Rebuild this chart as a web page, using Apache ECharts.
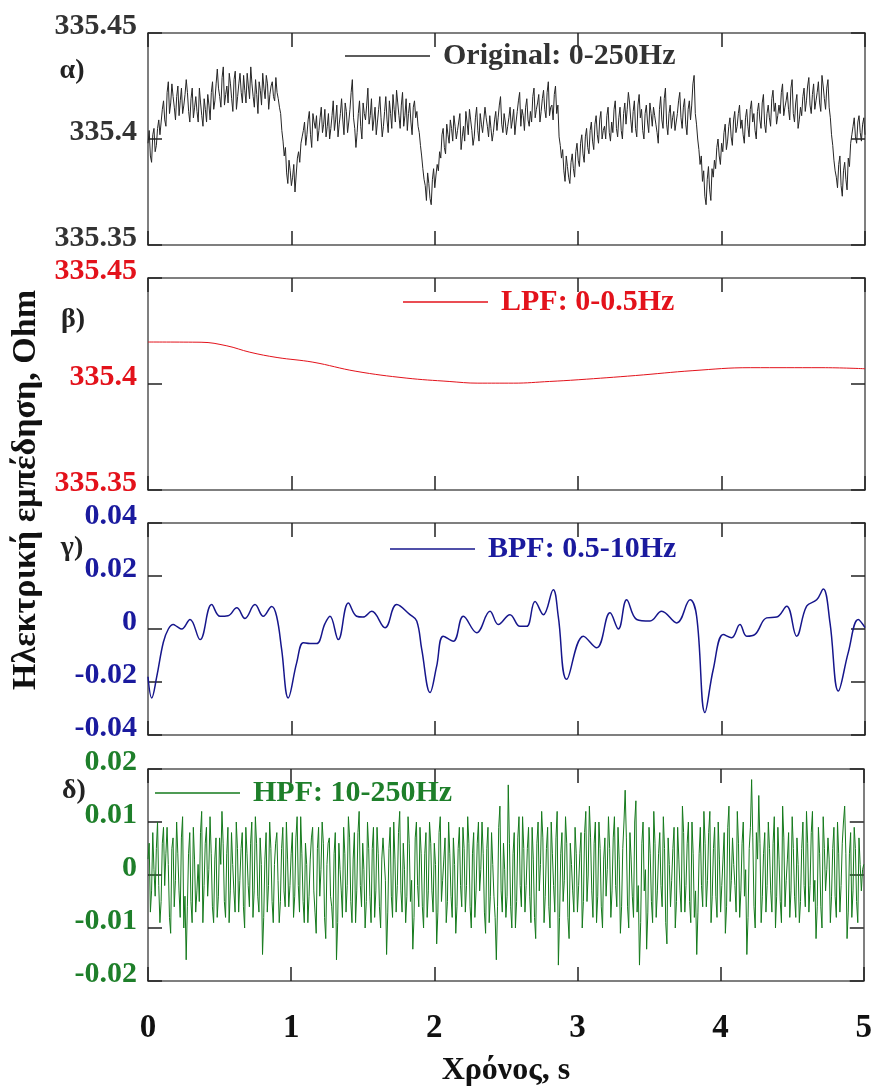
<!DOCTYPE html>
<html>
<head>
<meta charset="utf-8">
<title>Ηλεκτρική εμπέδηση</title>
<script src="https://cdn.jsdelivr.net/npm/echarts@6/dist/echarts.min.js"></script>
<style>
  html, body { margin: 0; padding: 0; background: #fff; }
  #main { width: 875px; height: 1088px; }
</style>
</head>
<body>
<div id="main"></div>
<script>
// ---- data ----
var seriesNames = ['Original: 0-250Hz', 'LPF: 0-0.5Hz', 'BPF: 0.5-10Hz', 'HPF: 10-250Hz'];
var panelLetters = ['α)', 'β)', 'γ)', 'δ)'];
var timeRange = [0, 5];

// original signal, one sample every 1/120 s
var alphaValues = [
  335.398, 335.404, 335.392, 335.389, 335.402, 335.405, 335.394, 335.397, 335.405, 335.409, 335.402, 335.408, 335.414, 335.418, 335.409, 335.406, 335.422, 335.427, 335.412, 335.417,
  335.426, 335.420, 335.415, 335.409, 335.420, 335.425, 335.411, 335.418, 335.424, 335.412, 335.416, 335.421, 335.428, 335.422, 335.413, 335.408, 335.419, 335.424, 335.410, 335.415,
  335.420, 335.413, 335.408, 335.424, 335.417, 335.411, 335.406, 335.419, 335.414, 335.408, 335.421, 335.416, 335.409, 335.422, 335.427, 335.414, 335.418, 335.426, 335.433, 335.424,
  335.420, 335.415, 335.429, 335.434, 335.416, 335.421, 335.425, 335.417, 335.431, 335.426, 335.419, 335.413, 335.428, 335.432, 335.414, 335.420, 335.426, 335.431, 335.422, 335.417,
  335.430, 335.423, 335.417, 335.431, 335.425, 335.419, 335.434, 335.426, 335.420, 335.415, 335.428, 335.421, 335.412, 335.427, 335.423, 335.416, 335.431, 335.424, 335.419, 335.430,
  335.426, 335.414, 335.421, 335.425, 335.427, 335.420, 335.418, 335.429, 335.422, 335.419, 335.415, 335.412, 335.404, 335.399, 335.392, 335.396, 335.384, 335.379, 335.390, 335.385,
  335.378, 335.382, 335.388, 335.375, 335.383, 335.391, 335.394, 335.389, 335.398, 335.401, 335.404, 335.408, 335.397, 335.402, 335.409, 335.413, 335.402, 335.396, 335.412, 335.408,
  335.405, 335.411, 335.399, 335.404, 335.410, 335.415, 335.403, 335.407, 335.414, 335.401, 335.406, 335.412, 335.400, 335.405, 335.411, 335.418, 335.404, 335.409, 335.416, 335.401,
  335.407, 335.412, 335.419, 335.409, 335.402, 335.417, 335.413, 335.403, 335.408, 335.414, 335.422, 335.428, 335.410, 335.405, 335.396, 335.403, 335.412, 335.418, 335.406, 335.400,
  335.417, 335.412, 335.409, 335.416, 335.424, 335.407, 335.411, 335.419, 335.404, 335.409, 335.415, 335.402, 335.408, 335.414, 335.420, 335.410, 335.401, 335.406, 335.413, 335.420,
  335.409, 335.403, 335.418, 335.412, 335.405, 335.421, 335.414, 335.408, 335.423, 335.417, 335.411, 335.405, 335.416, 335.422, 335.406, 335.411, 335.419, 335.404, 335.412, 335.417,
  335.408, 335.402, 335.415, 335.418, 335.410, 335.413, 335.406, 335.403, 335.397, 335.392, 335.386, 335.381, 335.378, 335.371, 335.384, 335.379, 335.372, 335.369, 335.381, 335.386,
  335.377, 335.383, 335.388, 335.385, 335.394, 335.391, 335.402, 335.405, 335.396, 335.393, 335.407, 335.402, 335.398, 335.409, 335.405, 335.399, 335.411, 335.406, 335.400, 335.404,
  335.408, 335.412, 335.395, 335.401, 335.406, 335.399, 335.413, 335.408, 335.402, 335.414, 335.409, 335.404, 335.397, 335.401, 335.410, 335.415, 335.404, 335.399, 335.412, 335.407,
  335.403, 335.409, 335.415, 335.410, 335.406, 335.401, 335.411, 335.405, 335.399, 335.403, 335.409, 335.413, 335.404, 335.410, 335.416, 335.420, 335.407, 335.403, 335.412, 335.408,
  335.402, 335.406, 335.410, 335.415, 335.405, 335.409, 335.414, 335.402, 335.408, 335.413, 335.418, 335.422, 335.406, 335.414, 335.411, 335.404, 335.415, 335.419, 335.409, 335.406,
  335.413, 335.408, 335.420, 335.424, 335.410, 335.414, 335.417, 335.421, 335.408, 335.413, 335.419, 335.423, 335.414, 335.410, 335.422, 335.427, 335.411, 335.415, 335.416, 335.409,
  335.421, 335.425, 335.412, 335.416, 335.401, 335.397, 335.391, 335.395, 335.385, 335.380, 335.392, 335.387, 335.382, 335.379, 335.389, 335.393, 335.386, 335.382, 335.394, 335.398,
  335.390, 335.387, 335.398, 335.402, 335.393, 335.389, 335.401, 335.405, 335.396, 335.393, 335.404, 335.408, 335.399, 335.395, 335.407, 335.411, 335.402, 335.398, 335.409, 335.413,
  335.400, 335.404, 335.406, 335.400, 335.411, 335.415, 335.403, 335.399, 335.408, 335.403, 335.414, 335.418, 335.405, 335.401, 335.410, 335.415, 335.404, 335.400, 335.412, 335.417,
  335.407, 335.414, 335.422, 335.417, 335.409, 335.403, 335.413, 335.418, 335.405, 335.401, 335.416, 335.421, 335.410, 335.414, 335.404, 335.400, 335.412, 335.416, 335.408, 335.403,
  335.417, 335.412, 335.406, 335.415, 335.411, 335.407, 335.403, 335.398, 335.414, 335.420, 335.409, 335.405, 335.419, 335.424, 335.407, 335.402, 335.412, 335.416, 335.405, 335.410,
  335.413, 335.404, 335.408, 335.412, 335.418, 335.422, 335.410, 335.405, 335.415, 335.419, 335.407, 335.402, 335.414, 335.418, 335.409, 335.416, 335.426, 335.430, 335.412, 335.407,
  335.400, 335.395, 335.388, 335.392, 335.380, 335.385, 335.373, 335.369, 335.381, 335.387, 335.376, 335.371, 335.386, 335.382, 335.390, 335.386, 335.396, 335.400, 335.392, 335.388,
  335.398, 335.394, 335.403, 335.407, 335.395, 335.399, 335.406, 335.410, 335.401, 335.397, 335.409, 335.413, 335.403, 335.406, 335.412, 335.416, 335.405, 335.409, 335.402, 335.398,
  335.410, 335.414, 335.406, 335.401, 335.414, 335.418, 335.408, 335.412, 335.404, 335.400, 335.413, 335.417, 335.409, 335.405, 335.417, 335.421, 335.407, 335.403, 335.412, 335.416,
  335.410, 335.406, 335.419, 335.423, 335.413, 335.417, 335.407, 335.411, 335.416, 335.412, 335.422, 335.426, 335.411, 335.415, 335.418, 335.422, 335.414, 335.409, 335.424, 335.428,
  335.412, 335.408, 335.417, 335.421, 335.405, 335.409, 335.415, 335.411, 335.420, 335.424, 335.413, 335.418, 335.425, 335.429, 335.416, 335.412, 335.421, 335.426, 335.414, 335.418,
  335.422, 335.427, 335.417, 335.413, 335.430, 335.425, 335.419, 335.414, 335.424, 335.428, 335.415, 335.410, 335.402, 335.397, 335.390, 335.385, 335.382, 335.377, 335.388, 335.392,
  335.378, 335.373, 335.385, 335.389, 335.381, 335.376, 335.391, 335.387, 335.398, 335.402, 335.406, 335.410, 335.401, 335.398, 335.408, 335.411, 335.403, 335.399, 335.407, 335.410,
  335.402
];

// low-pass component
var lpfTime   = [0, 0.37, 0.55, 0.71, 0.9, 1.15, 1.45, 1.8, 2.1, 2.3, 2.55, 2.8, 3.0, 3.4, 3.8, 4.2, 4.7, 5.0];
var lpfValues = [335.4198, 335.4197, 335.4180, 335.4150, 335.4125, 335.4103, 335.4060, 335.4028, 335.4012, 335.4004,
                 335.4004, 335.4012, 335.4020, 335.4040, 335.4063, 335.4077, 335.4077, 335.4072];

// band-pass component
var bpfTime = [
  0.000, 0.026, 0.061, 0.107, 0.142, 0.176, 0.200, 0.235, 0.293, 0.363, 0.444, 0.502, 0.558, 0.619, 0.676, 0.746, 0.804, 0.863, 0.897, 0.932,
  0.978, 1.037, 1.083, 1.130, 1.176, 1.234, 1.269, 1.327, 1.397, 1.455, 1.499, 1.560, 1.653, 1.734, 1.827, 1.874, 1.909, 1.967, 2.013, 2.059,
  2.129, 2.199, 2.292, 2.385, 2.443, 2.524, 2.594, 2.641, 2.699, 2.757, 2.826, 2.861, 2.920, 3.036, 3.129, 3.222, 3.280, 3.338, 3.408, 3.501,
  3.582, 3.687, 3.780, 3.826, 3.884, 3.942, 4.012, 4.070, 4.128, 4.175, 4.233, 4.314, 4.384, 4.454, 4.523, 4.593, 4.663, 4.709, 4.756, 4.814,
  4.883, 4.953, 5.000
];
var bpfValues = [
  -0.0180, -0.0260, -0.0180, -0.0050, 0.0000, 0.0017, 0.0010, 0.0000, 0.0036, -0.0040, 0.0092, 0.0048, 0.0050, 0.0080, 0.0040, 0.0092, 0.0048, 0.0085, 0.0048, -0.0077,
  -0.0260, -0.0127, -0.0052, -0.0055, -0.0055, 0.0020, 0.0048, -0.0040, 0.0098, 0.0048, 0.0045, 0.0067, 0.0005, 0.0092, 0.0054, 0.0030, -0.0077, -0.0240, -0.0140, -0.0027,
  -0.0046, 0.0048, -0.0014, 0.0067, 0.0017, 0.0054, 0.0010, 0.0010, 0.0104, 0.0054, 0.0148, 0.0048, -0.0190, -0.0027, -0.0071, 0.0061, 0.0000, 0.0110, 0.0036, 0.0030,
  0.0067, 0.0023, 0.0110, 0.0048, -0.0315, -0.0152, -0.0021, -0.0033, 0.0017, -0.0027, -0.0020, 0.0042, 0.0045, 0.0086, -0.0027, 0.0086, 0.0110, 0.0151, 0.0023, -0.0234,
  -0.0089, 0.0036, 0.0005
];

// high-pass component, one sample every 1/120 s
var hpfValues = [
  0.003, 0.006, -0.007, -0.003, 0.008, 0.001, -0.004, 0.005, 0.010, -0.002, -0.009, -0.005, 0.006, 0.009, -0.002, 0.004, 0.009, 0.002, -0.008, -0.011,
  0.005, 0.007, -0.006, -0.001, 0.010, 0.004, -0.003, -0.008, 0.007, 0.011, -0.010, -0.004, -0.016, -0.006, 0.004, 0.008, -0.005, -0.009, 0.009, 0.003,
  -0.007, -0.003, 0.002, -0.005, 0.008, 0.012, -0.009, -0.002, 0.006, 0.009, -0.004, 0.001, 0.011, 0.004, -0.006, -0.009, 0.003, 0.007, -0.008, -0.004,
  0.007, 0.002, 0.012, 0.006, -0.005, -0.008, 0.004, 0.009, -0.009, -0.003, 0.008, 0.002, -0.003, -0.007, 0.010, 0.005, -0.007, -0.001, 0.005, 0.008,
  -0.006, -0.010, 0.009, 0.004, -0.002, -0.006, 0.006, 0.010, -0.008, -0.003, 0.011, 0.006, -0.004, -0.007, 0.007, 0.002, -0.015, -0.008, 0.003, 0.008,
  -0.007, -0.002, 0.010, 0.005, -0.005, -0.009, 0.002, 0.006, 0.008, -0.001, -0.009, -0.005, 0.005, 0.009, -0.003, -0.006, 0.010, 0.003, -0.006, -0.002,
  0.004, 0.008, -0.008, -0.004, 0.007, 0.011, -0.002, -0.007, 0.011, 0.004, -0.005, -0.009, 0.006, 0.002, -0.009, -0.004, 0.003, 0.007, 0.009, -0.003,
  -0.007, -0.011, 0.005, 0.009, -0.004, 0.001, 0.010, 0.006, -0.008, -0.012, 0.002, 0.006, 0.007, -0.004, -0.006, -0.010, 0.004, 0.008, -0.016, -0.009,
  0.006, 0.001, -0.003, -0.008, 0.009, 0.004, -0.007, -0.002, 0.011, 0.007, -0.005, -0.009, 0.003, 0.008, -0.009, -0.003, 0.008, 0.012, -0.002, -0.006,
  0.006, 0.001, -0.010, -0.005, 0.010, 0.005, -0.004, -0.009, 0.005, 0.009, -0.008, -0.003, 0.009, 0.004, -0.006, -0.010, 0.003, 0.007, 0.007, -0.001,
  -0.015, -0.007, 0.005, 0.009, -0.004, -0.008, 0.010, 0.003, -0.007, -0.002, 0.008, 0.012, -0.003, -0.007, 0.006, 0.001, -0.009, -0.004, 0.011, 0.006,
  -0.005, -0.001, -0.014, -0.008, 0.007, 0.010, -0.002, -0.006, 0.009, 0.004, -0.006, -0.010, 0.004, 0.008, -0.008, -0.003, 0.010, 0.006, -0.003, -0.007,
  0.006, 0.002, -0.013, -0.007, 0.008, 0.011, -0.005, -0.001, 0.003, 0.007, -0.009, -0.005, 0.010, 0.004, -0.004, -0.008, 0.007, 0.002, -0.011, -0.006,
  0.005, 0.009, -0.002, -0.006, 0.009, 0.005, -0.007, -0.002, 0.011, 0.006, -0.006, -0.010, 0.004, 0.008, -0.008, -0.003, 0.006, 0.010, -0.003, 0.001,
  0.010, 0.004, -0.007, -0.011, 0.005, 0.009, -0.009, -0.004, 0.008, 0.002, -0.004, -0.008, -0.016, -0.006, 0.009, 0.013, -0.003, -0.007, 0.006, 0.001,
  -0.008, -0.004, 0.017, 0.006, -0.006, -0.010, 0.004, 0.008, -0.010, -0.005, 0.007, 0.011, -0.002, -0.006, 0.011, 0.005, -0.007, -0.002, 0.005, 0.009,
  -0.004, -0.009, 0.009, 0.003, -0.008, -0.012, 0.006, 0.010, -0.003, 0.002, 0.012, 0.007, -0.009, -0.004, 0.005, 0.009, -0.006, -0.010, 0.010, 0.004,
  -0.002, -0.007, 0.007, 0.012, -0.017, -0.008, 0.004, 0.008, -0.005, -0.001, 0.011, 0.006, -0.008, -0.012, 0.006, 0.002, -0.003, -0.007, 0.009, 0.004,
  -0.007, -0.002, 0.004, 0.008, -0.010, -0.005, 0.008, 0.012, -0.005, 0.000, 0.013, 0.007, -0.003, -0.008, 0.006, 0.010, -0.009, -0.004, 0.010, 0.005,
  -0.006, -0.010, 0.003, 0.007, -0.004, 0.001, 0.011, 0.005, -0.008, -0.003, 0.007, 0.011, -0.002, -0.006, 0.009, 0.003, -0.011, -0.006, 0.005, 0.010,
  0.016, 0.007, -0.006, -0.010, 0.008, 0.003, -0.004, -0.008, 0.010, 0.014, -0.007, -0.002, -0.017, -0.009, 0.006, 0.010, -0.003, 0.001, -0.014, -0.007,
  0.009, 0.004, -0.005, -0.009, 0.012, 0.006, -0.008, -0.003, 0.004, 0.008, -0.002, -0.006, 0.011, 0.005, -0.009, -0.013, 0.007, 0.002, -0.006, -0.001,
  0.005, 0.009, -0.010, -0.005, 0.009, 0.003, -0.003, -0.007, 0.013, 0.008, -0.007, -0.002, 0.006, 0.010, -0.005, -0.009, 0.010, 0.004, -0.008, -0.003,
  -0.015, -0.007, 0.004, 0.009, -0.002, -0.006, 0.012, 0.006, -0.006, -0.001, 0.008, 0.012, -0.009, -0.004, 0.005, 0.009, -0.004, -0.008, 0.010, 0.003,
  -0.007, -0.002, 0.003, 0.008, -0.011, -0.006, 0.009, 0.013, -0.005, -0.001, 0.007, 0.002, -0.002, -0.007, 0.012, 0.006, -0.008, -0.003, 0.006, 0.010,
  -0.004, 0.001, -0.015, -0.008, 0.005, 0.009, 0.018, 0.007, -0.006, -0.010, 0.008, 0.003, 0.015, 0.006, -0.009, -0.004, 0.004, 0.008, -0.007, -0.002,
  0.010, 0.005, -0.003, -0.007, 0.006, 0.011, -0.010, -0.004, 0.009, 0.003, -0.005, -0.009, 0.013, 0.007, -0.006, -0.001, 0.003, 0.008, -0.008, -0.003,
  0.011, 0.005, -0.004, -0.008, 0.007, 0.002, -0.009, -0.005, 0.005, 0.010, -0.002, -0.006, 0.012, 0.006, -0.007, -0.002, 0.008, 0.012, -0.005, -0.001,
  -0.012, -0.006, 0.009, 0.004, -0.006, -0.010, 0.011, 0.005, -0.003, 0.001, 0.007, 0.003, -0.009, -0.004, 0.005, 0.009, -0.004, -0.008, 0.010, 0.004,
  -0.007, -0.002, 0.006, 0.010, 0.013, 0.004, -0.012, -0.007, 0.004, 0.008, -0.008, -0.003, 0.009, 0.005, -0.005, -0.009, 0.007, 0.002, -0.003, 0.001,
  0.002
];

// y ranges of the four panels [min, max, step]
var yRanges = [[335.35, 335.45, 0.05], [335.35, 335.45, 0.05], [-0.04, 0.04, 0.02], [-0.02, 0.02, 0.01]];

// ---- chart ----
var serif = '"Liberation Serif", "Times New Roman", serif';
var lineColors  = ['#262626', '#e3121b', '#16168c', '#157a1c'];
var labelColors = ['#333333', '#e3121b', '#1a1a9e', '#1e7f2a'];
var gridTops = [33, 278, 523, 769];
var legendPos = [[345, 41], [403, 287], [390, 534], [155, 778]];
var letterPos = [[72, 71], [73, 320], [72, 548], [74, 791]];

function pairs(times, values) {
  return values.map(function(v, i) { return [times[i], v]; });
}
// evenly sampled series: place samples on the time axis
function sampled(values) {
  var step = (timeRange[1] - timeRange[0]) / (values.length - 1);
  return values.map(function(v, i) { return [timeRange[0] + i * step, v]; });
}
function fmt(v) { return String(Math.round(v * 100) / 100); }

var seriesData = [
  sampled(alphaValues),
  pairs(lpfTime, lpfValues),
  pairs(bpfTime, bpfValues),
  sampled(hpfValues)
];

var axisLine = { show: true, onZero: false, lineStyle: { color: '#555', width: 1.5 } };
var axisTick = { show: true, inside: true, length: 14, lineStyle: { color: '#222', width: 1.5 } };

var grid = [], xAxis = [], yAxis = [], series = [], legend = [], graphic = [];

for (var i = 0; i < 4; i++) {
  grid.push({ left: 148, right: 10, top: gridTops[i], height: 212 });

  var last = (i === 3);
  xAxis.push({
    gridIndex: i, type: 'value', position: 'bottom',
    min: timeRange[0], max: timeRange[1], interval: 1,
    axisLine: axisLine, axisTick: axisTick, splitLine: { show: false },
    axisLabel: {
      show: last, margin: 31, showMinLabel: true, showMaxLabel: true,
      fontFamily: serif, fontWeight: 'bold', fontSize: 33, color: '#111'
    },
    name: last ? 'Χρόνος, s' : '', nameLocation: 'middle', nameGap: 74,
    nameTextStyle: { fontFamily: serif, fontWeight: 'bold', fontSize: 32, color: '#111' }
  });
  xAxis.push({
    gridIndex: i, type: 'value', position: 'top',
    min: timeRange[0], max: timeRange[1], interval: 1,
    axisLine: axisLine, axisTick: axisTick, splitLine: { show: false },
    axisLabel: { show: false }
  });

  yAxis.push({
    gridIndex: i, type: 'value', position: 'left',
    min: yRanges[i][0], max: yRanges[i][1], interval: yRanges[i][2],
    axisLine: axisLine, axisTick: axisTick, splitLine: { show: false },
    axisLabel: {
      margin: 11, showMinLabel: true, showMaxLabel: true, formatter: fmt,
      verticalAlign: 'bottom', lineHeight: 14,
      fontFamily: serif, fontWeight: 'bold', fontSize: 30, color: labelColors[i]
    }
  });
  yAxis.push({
    gridIndex: i, type: 'value', position: 'right',
    min: yRanges[i][0], max: yRanges[i][1], interval: yRanges[i][2],
    axisLine: axisLine, axisTick: axisTick, splitLine: { show: false },
    axisLabel: { show: false }
  });

  series.push({
    type: 'line', name: seriesNames[i],
    xAxisIndex: 2 * i, yAxisIndex: 2 * i,
    data: seriesData[i],
    smooth: (i === 1 || i === 2) ? 0.4 : false,
    symbol: 'none', showSymbol: false,
    lineStyle: { color: lineColors[i], width: i === 2 ? 1.5 : 1 },
    itemStyle: { color: lineColors[i] }
  });

  legend.push({
    data: [seriesNames[i]], left: legendPos[i][0], top: legendPos[i][1],
    padding: 0, icon: 'rect', itemWidth: 85, itemHeight: 1.5, selectedMode: false,
    textStyle: {
      fontFamily: serif, fontWeight: 'bold', fontSize: 30,
      color: labelColors[i], padding: [0, 0, 0, 8]
    }
  });

  graphic.push({
    type: 'text', x: letterPos[i][0], y: letterPos[i][1],
    style: {
      text: panelLetters[i], fill: '#222', font: 'bold 28px ' + serif,
      textAlign: 'center', textVerticalAlign: 'middle'
    }
  });
}

// common y title
graphic.push({
  type: 'text', x: 26, y: 490, rotation: Math.PI / 2,
  style: {
    text: 'Ηλεκτρική εμπέδηση, Ohm', fill: '#111', font: 'bold 34px ' + serif,
    textAlign: 'center', textVerticalAlign: 'middle'
  }
});

var chart = echarts.init(document.getElementById('main'));
chart.setOption({
  animation: false,
  backgroundColor: '#fff',
  grid: grid,
  xAxis: xAxis,
  yAxis: yAxis,
  legend: legend,
  graphic: graphic,
  series: series
});
</script>
</body>
</html>
